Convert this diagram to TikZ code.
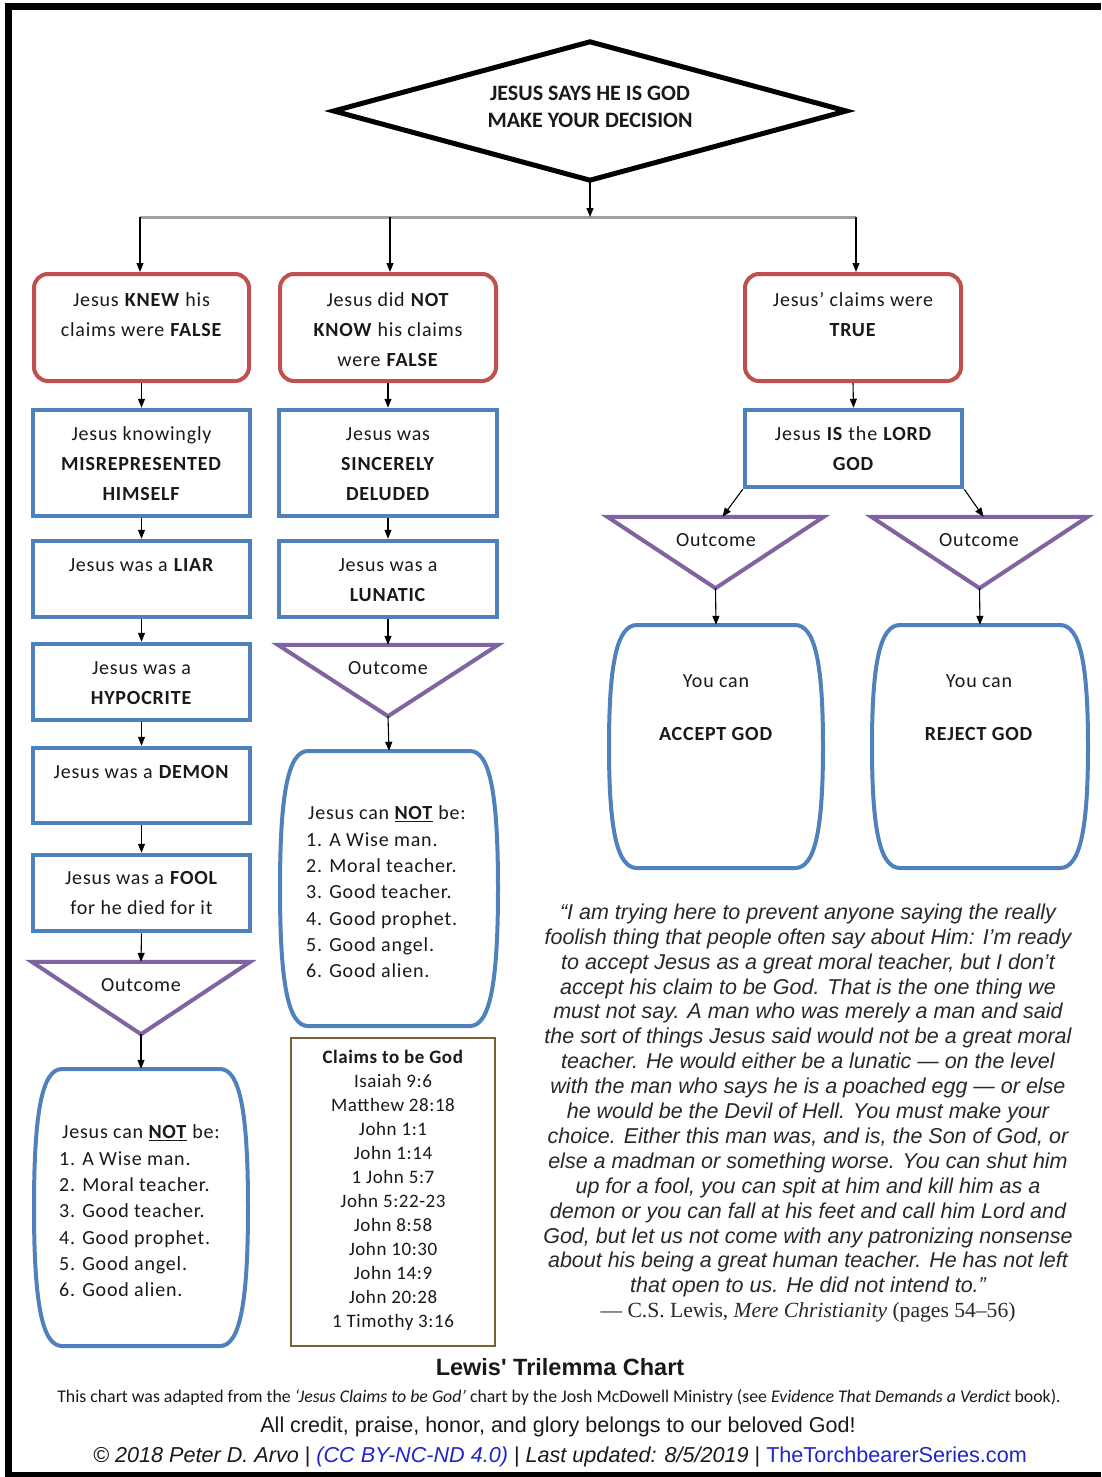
\documentclass[tikz,border=0pt]{standalone}
\usepackage{fontspec}
\setmainfont{Carlito}
\newfontfamily\boxf[LetterSpace=4]{Carlito}
\newfontfamily\claimf[LetterSpace=3]{Carlito}
\newfontfamily\arialf{Liberation Sans}
\newfontfamily\tnr{Liberation Serif}
\usetikzlibrary{arrows.meta,calc}

\definecolor{redc}{RGB}{192,80,77}
\definecolor{bluec}{RGB}{79,129,189}
\definecolor{purc}{RGB}{128,100,162}
\definecolor{textc}{RGB}{25,25,25}
\definecolor{quotec}{RGB}{40,40,40}
\definecolor{brownc}{RGB}{125,95,55}
\definecolor{linkc}{RGB}{35,35,205}
\definecolor{grayc}{RGB}{160,160,160}

\newcommand\barrelshape[5]{%
  \node[inner sep=0pt, minimum width=#4pt, minimum height=#5pt] (#1) at (#2,#3) {};
  \pgfmathsetmacro\bxl{#2-#4/2}\pgfmathsetmacro\bxr{#2+#4/2}%
  \pgfmathsetmacro\byt{#3-#5/2}\pgfmathsetmacro\byb{#3+#5/2}%
  \pgfmathsetmacro\bym{#3}\pgfmathsetmacro\bk{0.7*#5/2}%
  \draw[barrelc] (\bxl+28,\byt) -- (\bxr-28,\byt)
    .. controls (\bxr-8.4,\byt) and (\bxr,\bym-\bk) .. (\bxr,\bym)
    .. controls (\bxr,\bym+\bk) and (\bxr-8.4,\byb) .. (\bxr-28,\byb)
    -- (\bxl+28,\byb)
    .. controls (\bxl+8.4,\byb) and (\bxl,\bym+\bk) .. (\bxl,\bym)
    .. controls (\bxl,\bym-\bk) and (\bxl+8.4,\byt) .. cycle;
}

\begin{document}
\begin{tikzpicture}[x=1pt,y=-1pt,
  box/.style={inner sep=0pt},
  redbox/.style={box, draw=redc, line width=4pt, rounded corners=14pt},
  bluebox/.style={box, draw=bluec, line width=4.5pt},
  lbl/.style={font=\boxf\fontsize{20}{30}\selectfont, text=textc, align=center, inner sep=0pt},
  listlbl/.style={font=\boxf\fontsize{20}{26.3}\selectfont, text=textc, align=left, inner sep=0pt, anchor=west},
  arr/.style={-{Triangle[length=9pt,width=7pt]}, line width=1.1pt, black},
  tri/.style={draw=purc, line width=4pt, line join=miter},
  barrelc/.style={draw=bluec, line width=4pt},
  hole/.style={inner sep=0pt}
]
\useasboundingbox (0,0) rectangle (1101,1477);
\fill[white] (0,0) rectangle (1101,1477);
% frame
\fill[black] (5,3) rectangle (1101,10);
\fill[black] (5,3) rectangle (12,1477);
\fill[black] (5,1472) rectangle (1101,1477);

% decision diamond
\node[hole, minimum width=512pt, minimum height=138pt] (dec) at (590,111) {};
\draw[black, line width=5pt, line join=miter] (dec.west) -- (dec.north) -- (dec.east) -- (dec.south) -- cycle;
\node[font=\bfseries\fontsize{22}{27}\selectfont, text=textc, align=center, inner sep=0pt] (dect) at (590,106.5) {JESUS SAYS HE IS GOD\\MAKE YOUR DECISION};

% branching line
\coordinate (jm) at (590,217);
\coordinate (j1) at (140,217);
\coordinate (j2) at (390,217);
\coordinate (j3) at (856,217);
\draw[grayc, line width=3pt] (j1) -- (j3);
\draw[arr] (dec.south) -- (jm);

% red boxes
\node[redbox, minimum width=215pt, minimum height=107pt] (k1) at (141.5,327.5) {};
\node[redbox, minimum width=216pt, minimum height=107pt] (k2) at (388,327.5) {};
\node[redbox, minimum width=216pt, minimum height=107pt] (k3) at (853,327.5) {};
\node[lbl] (k1t) at (141.5,315) {Jesus \textbf{KNEW} his\\claims were \textbf{FALSE}};
\node[lbl] (k2t) at (388,330) {Jesus did \textbf{NOT}\\\textbf{KNOW} his claims\\were \textbf{FALSE}};
\node[lbl] (k3t) at (853,315) {Jesus’ claims were\\\textbf{TRUE}};

\draw[arr] (j1) -- (j1 |- k1.north);
\draw[arr] (j2) -- (j2 |- k2.north);
\draw[arr] (j3) -- (j3 |- k3.north);

% blue boxes, second row
\node[bluebox, minimum width=217pt, minimum height=106pt] (m1) at (141.5,463) {};
\node[bluebox, minimum width=218pt, minimum height=106pt] (m2) at (388,463) {};
\node[bluebox, minimum width=217pt, minimum height=77pt] (m3) at (853.5,448.5) {};
\node[lbl] (m1t) at (141.5,464) {Jesus knowingly\\\textbf{MISREPRESENTED}\\\textbf{HIMSELF}};
\node[lbl] (m2t) at (388,464) {Jesus was\\\textbf{SINCERELY}\\\textbf{DELUDED}};
\node[lbl] (m3t) at (853.5,449) {Jesus \textbf{IS} the \textbf{LORD}\\\textbf{GOD}};
\draw[arr] (k1.south) -- (m1.north);
\draw[arr] (k2.south) -- (m2.north);
\draw[arr] (k3.south) -- (m3.north);

% left column
\node[bluebox, minimum width=217pt, minimum height=76pt] (liar) at (141.5,579) {};
\node[lbl] (liart) at (141.5,565) {Jesus was a \textbf{LIAR}};
\node[bluebox, minimum width=217pt, minimum height=76pt] (hyp) at (141.5,682) {};
\node[lbl] (hypt) at (141.5,683) {Jesus was a\\\textbf{HYPOCRITE}};
\node[bluebox, minimum width=217pt, minimum height=75pt] (dem) at (141.5,785.5) {};
\node[lbl] (demt) at (141.5,772) {Jesus was a \textbf{DEMON}};
\node[bluebox, minimum width=217pt, minimum height=76pt] (fool) at (141.5,893) {};
\node[lbl] (foolt) at (141.5,893.5) {Jesus was a \textbf{FOOL}\\for he died for it};
\draw[arr] (m1.south) -- (liar.north);
\draw[arr] (liar.south) -- (hyp.north);
\draw[arr] (hyp.south) -- (dem.north);
\draw[arr] (dem.south) -- (fool.north);

\node[hole, minimum width=218pt, minimum height=72pt] (t1) at (141,998) {};
\draw[tri] (t1.north west) -- (t1.north east) -- (t1.south) -- cycle;
\node[lbl] (t1t) at (141,985) {Outcome};
\draw[arr] (fool.south) -- (t1.north);

\barrelshape{b1}{141}{1207.5}{214}{277}
\node[listlbl] (b1t) at (59,1211) {\hspace*{3pt}Jesus can \underline{\textbf{NOT}} be:\\1. A Wise man.\\2. Moral teacher.\\3. Good teacher.\\4. Good prophet.\\5. Good angel.\\6. Good alien.};
\draw[arr] (t1.south) -- (b1.north);

% middle column
\node[bluebox, minimum width=218pt, minimum height=76pt] (lun) at (388,579) {};
\node[lbl] (lunt) at (388,580) {Jesus was a\\\textbf{LUNATIC}};
\draw[arr] (m2.south) -- (lun.north);

\node[hole, minimum width=220pt, minimum height=71pt] (t2) at (388,680.5) {};
\draw[tri] (t2.north west) -- (t2.north east) -- (t2.south) -- cycle;
\node[lbl] (t2t) at (388,668) {Outcome};
\draw[arr] (lun.south) -- (t2.north);

\barrelshape{b2}{389}{888.5}{218}{275}
\node[listlbl] (b2t) at (306,892) {\hspace*{2pt}Jesus can \underline{\textbf{NOT}} be:\\1. A Wise man.\\2. Moral teacher.\\3. Good teacher.\\4. Good prophet.\\5. Good angel.\\6. Good alien.};
\draw[arr] (t2.south) -- (b2.north);

% claims box
\node[draw=brownc, line width=1.5pt, inner sep=0pt, minimum width=204pt, minimum height=308pt] (claims) at (393,1192) {};
\node[font=\claimf\fontsize{19}{24}\selectfont, text=textc, align=center, inner sep=0pt] (claimst) at (393,1190) {\textbf{Claims to be God}\\Isaiah 9:6\\Matthew 28:18\\John 1:1\\John 1:14\\1 John 5:7\\John 5:22-23\\John 8:58\\John 10:30\\John 14:9\\John 20:28\\1 Timothy 3:16};

% right column
\node[hole, minimum width=216pt, minimum height=71pt] (o1) at (715.5,552.5) {};
\draw[tri] (o1.north west) -- (o1.north east) -- (o1.south) -- cycle;
\node[lbl] (o1t) at (716,540) {Outcome};
\node[hole, minimum width=216pt, minimum height=71pt] (o2) at (979.5,552.5) {};
\draw[tri] (o2.north west) -- (o2.north east) -- (o2.south) -- cycle;
\node[lbl] (o2t) at (979,540) {Outcome};
\draw[arr] (m3.south west) -- ($(o1.north)+(7pt,0)$);
\draw[arr] (m3.south east) -- ($(o2.north)+(4pt,0)$);

\barrelshape{r1}{716}{746.5}{214}{243}
\barrelshape{r2}{980}{746.5}{216}{243}
\node[lbl] (r1a) at (716,681) {You can};
\node[lbl] (r1b) at (716,734) {\textbf{ACCEPT GOD}};
\node[lbl] (r2a) at (979,681) {You can};
\node[lbl] (r2b) at (979,734) {\textbf{REJECT GOD}};
\draw[arr] (o1.south) -- (r1.north);
\draw[arr] (o2.south) -- (r2.north);

% quote
\node[font=\arialf\itshape\fontsize{21.5}{24.9}\selectfont, text=quotec, align=center, inner sep=0pt] (quote) at (808,1100.5) {%
“I am trying here to prevent anyone saying the really\\
foolish thing that people often say about Him: I’m ready\\
to accept Jesus as a great moral teacher, but I don’t\\
accept his claim to be God. That is the one thing we\\
must not say. A man who was merely a man and said\\
the sort of things Jesus said would not be a great moral\\
teacher. He would either be a lunatic — on the level\\
with the man who says he is a poached egg — or else\\
he would be the Devil of Hell. You must make your\\
choice. Either this man was, and is, the Son of God, or\\
else a madman or something worse. You can shut him\\
up for a fool, you can spit at him and kill him as a\\
demon or you can fall at his feet and call him Lord and\\
God, but let us not come with any patronizing nonsense\\
about his being a great human teacher. He has not left\\
that open to us. He did not intend to.”};
\node[font=\tnr\fontsize{21.6}{24}\selectfont, text=quotec, inner sep=0pt] (attr) at (808,1312) {— C.S. Lewis, \textit{Mere Christianity} (pages 54–56)};

% footer
\node[font=\arialf\bfseries\fontsize{23.5}{26}\selectfont, text=textc, inner sep=0pt] (title) at (560,1367) {Lewis' Trilemma Chart};
\node[font=\fontsize{17.8}{20}\selectfont, text=textc, inner sep=0pt] (adapt) at (559,1397) {This chart was adapted from the \textit{‘Jesus Claims to be God’} chart by the Josh McDowell Ministry (see \textit{Evidence That Demands a Verdict} book).};
\node[font=\arialf\fontsize{21.5}{24}\selectfont, text=textc, inner sep=0pt] (credit) at (558,1427) {All credit, praise, honor, and glory belongs to our beloved God!};
\node[font=\arialf\fontsize{21.6}{24}\selectfont, text=textc, inner sep=0pt] (copy) at (560,1457) {\textit{© 2018 Peter D. Arvo} | \textcolor{linkc}{\textit{(CC BY-NC-ND 4.0)}} | \textit{Last updated: 8/5/2019} | \textcolor{linkc}{TheTorchbearerSeries.com}};
\end{tikzpicture}
\end{document}
